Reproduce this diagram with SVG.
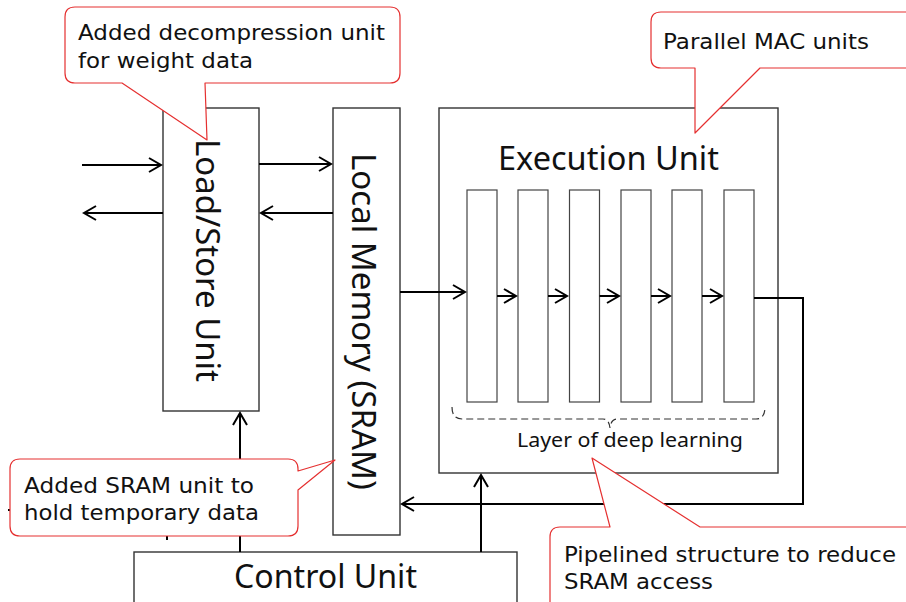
<svg xmlns="http://www.w3.org/2000/svg" width="906" height="602" viewBox="0 0 906 602">
  <style>
    .box { fill: #fff; stroke: #333; stroke-width: 1.4; }
    .mac { fill: #fff; stroke: #444; stroke-width: 1.2; }
    .wire { fill: none; stroke: #000; stroke-width: 2; }
    .arrow { fill: none; stroke: #000; stroke-width: 2; marker-end: url(#chev); }
    .big { font-family: "Noto Sans", "Liberation Sans", sans-serif; font-size: 32px; fill: #111; }
    .note { font-family: "DejaVu Sans", "Noto Sans", sans-serif; font-size: 22px; fill: #111; }
    .small { font-family: "Noto Sans", "Liberation Sans", sans-serif; font-size: 19px; fill: #111; }
    .callout { fill: #fff; stroke: #e53030; stroke-width: 1.2; stroke-linejoin: round; }
  </style>
  <defs>
    <marker id="chev" markerUnits="userSpaceOnUse" markerWidth="16" markerHeight="16" refX="12" refY="7" orient="auto" overflow="visible">
      <path d="M0,0 L12,7 L0,14" fill="none" stroke="#000" stroke-width="2"/>
    </marker>
  </defs>

  <!-- units -->
  <g id="load-store-unit">
    <rect class="box" x="163" y="108" width="96" height="303"/>
    <text class="big" transform="translate(196,260.5) rotate(90)" text-anchor="middle" textLength="243" lengthAdjust="spacingAndGlyphs">Load/Store Unit</text>
  </g>
  <g id="local-memory">
    <rect class="box" x="333" y="108" width="67" height="427"/>
    <text class="big" transform="translate(352,321.5) rotate(90)" text-anchor="middle" textLength="337" lengthAdjust="spacingAndGlyphs">Local Memory (SRAM)</text>
  </g>
  <g id="execution-unit">
    <rect class="box" x="439" y="108" width="339" height="365"/>
    <text class="big" x="498" y="170" textLength="221" lengthAdjust="spacingAndGlyphs">Execution Unit</text>
    <rect class="mac" x="467" y="190" width="30" height="212"/>
    <rect class="mac" x="518" y="190" width="30" height="212"/>
    <rect class="mac" x="569.5" y="190" width="30" height="212"/>
    <rect class="mac" x="621" y="190" width="30" height="212"/>
    <rect class="mac" x="672" y="190" width="30" height="212"/>
    <rect class="mac" x="724" y="190" width="30" height="212"/>
    <!-- dashed brace under the MAC row -->
    <path d="M452,407 Q452,419 462,419 L603,419 Q609,419 610,428 Q611,419 617,419 L756,419 Q765,419 765,407" fill="none" stroke="#333" stroke-width="1.2" stroke-dasharray="7,4"/>
    <text class="small" x="517" y="447" textLength="226" lengthAdjust="spacingAndGlyphs">Layer of deep learning</text>
  </g>
  <g id="control-unit">
    <rect class="box" x="134" y="552" width="383" height="60"/>
    <text class="big" x="234" y="588" textLength="183" lengthAdjust="spacingAndGlyphs">Control Unit</text>
  </g>

  <!-- connectors -->
  <g id="connectors">
    <path class="arrow" d="M82,165 H161"/>
    <path class="arrow" d="M163,213 H84"/>
    <path class="arrow" d="M259,164 H331"/>
    <path class="arrow" d="M333,213 H261"/>
    <path class="arrow" d="M400,292 H465"/>
    <path class="arrow" d="M497,296 H516"/>
    <path class="arrow" d="M548,296 H567"/>
    <path class="arrow" d="M599.5,296 H619"/>
    <path class="arrow" d="M651,296 H670"/>
    <path class="arrow" d="M702,296 H722"/>
    <path class="arrow" d="M754,298 H803 V504 H402" stroke-width="2.5"/>
    <path class="arrow" d="M240,552 V413"/>
    <path class="arrow" d="M481,552 V475"/>
    <path class="wire" d="M167,540 V510 H8"/>
  </g>

  <!-- callouts -->
  <g id="callout-decompression">
    <path class="callout" d="M75,7 H390 Q400,7 400,17 V73 Q400,83 390,83 H205 L207,140 L122,83 H75 Q65,83 65,73 V17 Q65,7 75,7 Z"/>
    <text class="note" x="78" y="40" textLength="307" lengthAdjust="spacingAndGlyphs">Added decompression unit</text>
    <text class="note" x="78" y="68" textLength="175" lengthAdjust="spacingAndGlyphs">for weight data</text>
  </g>
  <g id="callout-mac">
    <path class="callout" d="M661,12 H914 V68 H760 L695,133 L695,68 H661 Q651,68 651,58 V22 Q651,12 661,12 Z"/>
    <text class="note" x="663" y="49" textLength="206" lengthAdjust="spacingAndGlyphs">Parallel MAC units</text>
  </g>
  <g id="callout-sram">
    <path class="callout" d="M20,459 H288 Q298,459 298,469 V471 L335,460 L298,490 V526 Q298,536 288,536 H20 Q10,536 10,526 V469 Q10,459 20,459 Z"/>
    <text class="note" x="24" y="493" textLength="230" lengthAdjust="spacingAndGlyphs">Added SRAM unit to</text>
    <text class="note" x="24" y="520" textLength="235" lengthAdjust="spacingAndGlyphs">hold temporary data</text>
  </g>
  <g id="callout-pipeline">
    <path class="callout" d="M560,527 H610 L592,458 L700,527 H914 V612 H550 V537 Q550,527 560,527 Z"/>
    <text class="note" x="564" y="562" textLength="332" lengthAdjust="spacingAndGlyphs">Pipelined structure to reduce</text>
    <text class="note" x="564" y="589" textLength="149" lengthAdjust="spacingAndGlyphs">SRAM access</text>
  </g>
</svg>
